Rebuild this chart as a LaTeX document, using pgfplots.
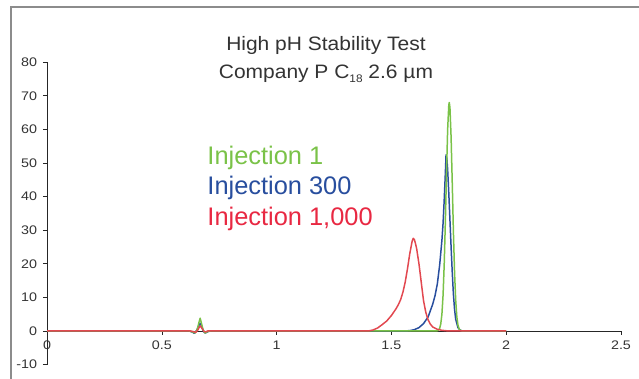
\documentclass[border=0pt]{standalone}
\usepackage{pgfplots}
\pgfplotsset{compat=1.18}
\usepackage{fontspec}
\setmainfont{Liberation Sans}
\newfontfamily\tickfont[FakeStretch=1.15]{Liberation Sans}
\newfontfamily\titlefont[FakeStretch=1.08]{Liberation Sans}
\usetikzlibrary{calc}
\definecolor{cgreen}{RGB}{122,194,72}
\definecolor{cblue}{RGB}{40,78,158}
\definecolor{cred}{RGB}{232,40,66}
\definecolor{credline}{RGB}{226,72,80}
\definecolor{ctext}{RGB}{51,51,51}
\begin{document}
\begin{tikzpicture}
\begin{axis}[
  scale only axis, width=574bp, height=302.4bp,
  xmin=0, xmax=2.5, ymin=-10, ymax=80,
  axis lines=middle, axis line style={-, black!85, line width=0.6pt},
  xtick={0,0.5,1,1.5,2,2.5}, ytick={-10,0,10,20,30,40,50,60,70,80},
  tick align=outside, major tick length=4bp,
  tick style={black!85, line width=0.6pt},
  hide obscured x ticks=false, hide obscured y ticks=false,
  xticklabel={\pgfmathprintnumber{\tick}},
  yticklabel={\pgfmathprintnumber{\tick}},
  tick label style={font=\tickfont\fontsize{12.5}{15}\selectfont, text=ctext},
  /pgf/number format/assume math mode=true,
  xticklabel style={yshift=-2bp},
  yticklabel style={xshift=-2.5bp},
  clip=false,
  every axis plot/.append style={line width=1.5pt, line join=round},
]
% Injection 300
\addplot[cblue] coordinates {
 (0,0) (0.62,0) (0.632,-0.3) (0.642,-0.7) (0.652,0.2) (0.66,1.5) (0.667,2.3) (0.674,1.3)
 (0.682,-0.2) (0.69,-0.6) (0.70,-0.2) (0.712,0)
 (1.55,0) (1.58,0.1) (1.60,0.4) (1.62,1.0) (1.64,2.2) (1.66,4.2) (1.68,8.0) (1.69,10.5)
 (1.70,14) (1.71,19.5) (1.72,27) (1.725,32) (1.73,39) (1.735,47) (1.738,52.4) (1.742,51)
 (1.745,48) (1.75,41) (1.755,33) (1.76,25) (1.765,17.5) (1.77,11) (1.775,6.5) (1.78,3.5)
 (1.79,1.0) (1.80,0.2) (1.81,0) (2.0,0)
};
% Injection 1
\addplot[cgreen] coordinates {
 (0,0) (0.62,0) (0.635,-0.3) (0.645,-0.6) (0.655,0.6) (0.662,2.6) (0.667,3.8) (0.672,2.5)
 (0.68,0.3) (0.688,-0.6) (0.698,-0.2) (0.71,0)
 (1.69,0) (1.70,0.07) (1.705,0.24) (1.71,0.75) (1.715,2.1) (1.72,5.0) (1.725,10.6)
 (1.73,19.8) (1.735,32.5) (1.74,47.1) (1.745,60.0) (1.75,67.3) (1.752,68) (1.755,66.5)
 (1.76,57.7) (1.765,44.2) (1.77,29.7) (1.775,17.6) (1.78,9.2) (1.785,4.2) (1.79,1.7)
 (1.795,0.6) (1.80,0.19) (1.81,0) (2.0,0)
};
% Injection 1,000
\addplot[credline] coordinates {
 (0,0) (0.625,0) (0.638,-0.2) (0.648,-0.4) (0.657,0.3) (0.663,1.1) (0.668,1.5) (0.674,0.9)
 (0.682,0) (0.69,-0.3) (0.70,0)
 (1.40,0) (1.42,0.3) (1.44,0.9) (1.46,1.9) (1.48,3.0) (1.50,4.6) (1.52,6.6) (1.53,7.8)
 (1.54,9.3) (1.55,11.5) (1.56,14.5) (1.57,18.5) (1.58,23) (1.59,26.6) (1.595,27.6)
 (1.60,27.2) (1.605,26) (1.61,24.5) (1.62,20) (1.63,14.5) (1.64,9) (1.65,5.5) (1.66,3.3)
 (1.67,2) (1.68,1.2) (1.70,0.5) (1.72,0.2) (1.75,0) (2.0,0)
};
\node[anchor=base, text=ctext, font=\titlefont\fontsize{19.5}{24}\selectfont] at (axis cs:1.215,83.6) {High pH Stability Test};
\node[anchor=base, text=ctext, font=\titlefont\fontsize{19.5}{24}\selectfont] at (axis cs:1.215,75.2) {Company P C\raisebox{-0.45ex}{\fontsize{11}{12}\selectfont 18} 2.6 µm};
\node[anchor=base west, inner sep=0pt, text=cgreen, font=\fontsize{25.5}{30}\selectfont] at (axis cs:0.698,49.6) {Injection 1};
\node[anchor=base west, inner sep=0pt, text=cblue, font=\fontsize{25.5}{30}\selectfont] at (axis cs:0.698,40.5) {Injection 300};
\node[anchor=base west, inner sep=0pt, text=cred, font=\fontsize{25.5}{30}\selectfont] at (axis cs:0.698,31.5) {Injection 1,000};
\coordinate (sw) at (rel axis cs:0,0);
\coordinate (ne) at (rel axis cs:1,1);
\end{axis}
\draw[black!45, line width=1.1bp] ($(sw)+(-36bp,-30bp)$) |- ($(ne)+(40bp,55.2bp)$);
\pgfresetboundingbox
\path[use as bounding box] ($(sw)+(-47bp,-14.4bp)$) rectangle ($(ne)+(18bp,62.2bp)$);
\end{tikzpicture}
\end{document}
